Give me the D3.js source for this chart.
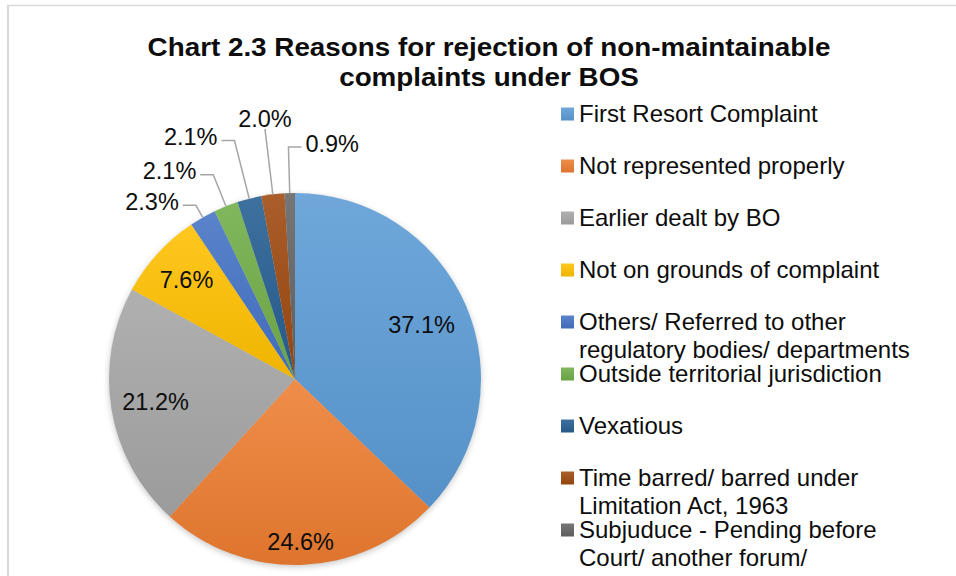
<!DOCTYPE html>
<html>
<head>
<meta charset="UTF-8">
<title>Chart 2.3</title>
<script src="https://d3js.org/d3.v7.min.js"></script>
<style>
  body { margin: 0; background: #fff; }
  text { font-family: Arial, "Liberation Sans", sans-serif; fill: #0d0d0d; }
  .title { font-weight: bold; font-size: 26px; }
  .lbl { font-size: 23.5px; }
  .leg { font-size: 24px; }
  .leader { fill: none; stroke: #a6a6a6; stroke-width: 1.5px; }
</style>
</head>
<body>
<script>
// data
var categories = [
  "First Resort Complaint",
  "Not represented properly",
  "Earlier dealt by BO",
  "Not on grounds of complaint",
  "Others/ Referred to other|regulatory bodies/ departments",
  "Outside territorial jurisdiction",
  "Vexatious",
  "Time barred/ barred under|Limitation Act, 1963",
  "Subjuduce - Pending before|Court/ another forum/"
];
var values = [37.1, 24.6, 21.2, 7.6, 2.3, 2.1, 2.1, 2.0, 0.9];
var title = ["Chart 2.3 Reasons for rejection of non-maintainable", "complaints under BOS"];

// styles / layout
var colors = ["#5b9bd5", "#ed7d31", "#a5a5a5", "#ffc000", "#4472c4", "#70ad47", "#255e91", "#9e480e", "#636363"];
// inside label radius (fraction of r) or outside label: radius + side
var labelCfg = [
  {k: 0.74}, {k: 0.875}, {k: 0.76}, {k: 0.79},
  {out: 200, side: -1}, {out: 220, side: -1}, {out: 246, side: -1}, {out: 252, side: 0}, {out: 232, side: 1}
];

var W = 956, H = 576, cx = 295, cy = 379, R = 186;

var svg = d3.select("body").append("svg").attr("width", W).attr("height", H);
var defs = svg.append("defs");

// frame
svg.append("line").attr("x1", 7).attr("x2", W).attr("y1", 5.5).attr("y2", 5.5).attr("stroke", "#d9d9d9").attr("stroke-width", 1.5);
svg.append("line").attr("x1", 8).attr("x2", 8).attr("y1", 5).attr("y2", H).attr("stroke", "#d9d9d9").attr("stroke-width", 2);

svg.append("g").attr("transform", "translate(489,0) scale(1.07,1)")
  .selectAll("text").data(title).enter().append("text")
  .attr("class", "title")
  .attr("x", 0).attr("y", function(d, i) { return 56 + i * 30; })
  .attr("text-anchor", "middle")
  .text(function(d) { return d; });

// gradients
colors.forEach(function(c, i) {
  var g = defs.append("linearGradient").attr("id", "g" + i)
    .attr("x1", 0).attr("y1", 0).attr("x2", 0).attr("y2", 1);
  g.append("stop").attr("offset", "0%").attr("stop-color", d3.interpolateRgb(c, "#fff")(0.12));
  g.append("stop").attr("offset", "100%").attr("stop-color", d3.color(c).darker(0.18));
});
var f = defs.append("filter").attr("id", "sh").attr("x", "-10%").attr("y", "-10%").attr("width", "120%").attr("height", "120%");
f.append("feGaussianBlur").attr("stdDeviation", 3);

var pie = d3.pie().sort(null).value(function(d) { return d; });
var arcs = pie(values);
var arc = d3.arc().innerRadius(0).outerRadius(R);

var g = svg.append("g").attr("transform", "translate(" + cx + "," + cy + ")");
g.append("circle").attr("cx", 0).attr("cy", 2).attr("r", R).attr("fill", "#000").attr("opacity", 0.22).attr("filter", "url(#sh)");

g.selectAll("path.slice").data(arcs).enter().append("path")
  .attr("class", "slice")
  .attr("d", arc)
  .attr("fill", function(d, i) { return "url(#g" + i + ")"; });

function polar(r, a) { return [r * Math.sin(a), -r * Math.cos(a)]; }

arcs.forEach(function(d, i) {
  var c = labelCfg[i], mid = (d.startAngle + d.endAngle) / 2;
  var txt = d3.format(".1f")(values[i]) + "%";
  if (c.k) {
    var p = polar(R * c.k, mid);
    g.append("text").attr("class", "lbl").attr("x", p[0]).attr("y", p[1])
      .attr("text-anchor", "middle").attr("dy", "0.35em").text(txt);
  } else {
    var p0 = polar(R, mid), p1 = polar(c.out, mid);
    var pts = [p0, p1];
    if (c.side !== 0) pts.push([p1[0] + c.side * 13, p1[1]]);
    g.append("path").attr("class", "leader").attr("d", d3.line()(pts));
    var t = g.append("text").attr("class", "lbl");
    if (c.side === 0) {
      t.attr("x", p1[0]).attr("y", p1[1] - 2).attr("text-anchor", "middle");
    } else {
      var e = pts[2];
      t.attr("x", e[0] + c.side * 4).attr("y", e[1]).attr("dy", "0.2em")
        .attr("text-anchor", c.side < 0 ? "end" : "start");
    }
    t.text(txt);
  }
});

// legend
var leg = svg.append("g").attr("transform", "translate(561,0)");
var item = leg.selectAll("g").data(categories).enter().append("g")
  .attr("transform", function(d, i) { return "translate(0," + (114 + i * 52) + ")"; });
item.append("rect").attr("x", 0).attr("y", -6.5).attr("width", 13).attr("height", 13)
  .attr("fill", function(d, i) { return "url(#g" + i + ")"; });
item.each(function(d) {
  var lines = d.split("|");
  d3.select(this).selectAll("text").data(lines).enter().append("text")
    .attr("class", "leg").attr("x", 18)
    .attr("y", function(l, j) { return j * 28; }).attr("dy", "0.35em")
    .text(function(l) { return l; });
});
</script>
</body>
</html>
